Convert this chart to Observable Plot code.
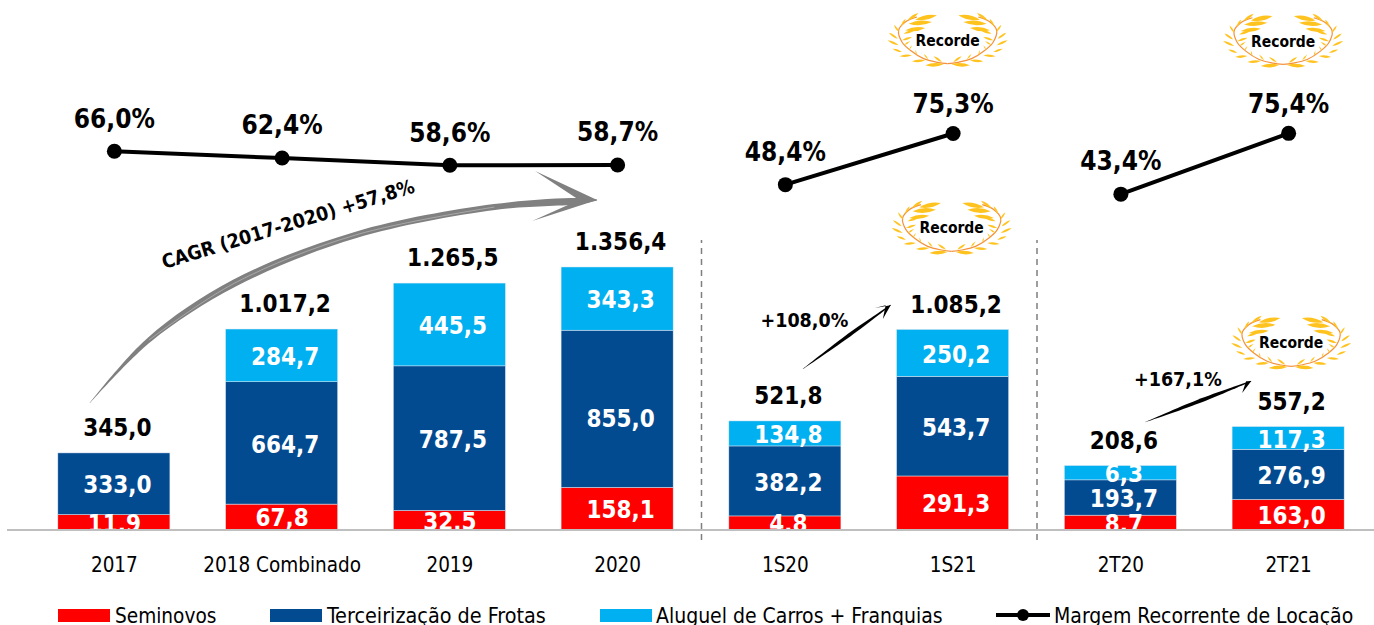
<!DOCTYPE html>
<html>
<head>
<meta charset="utf-8">
<script src="https://cdn.jsdelivr.net/npm/d3@7"></script>
<script src="https://cdn.jsdelivr.net/npm/@observablehq/plot@0.6"></script>
<style>
  html, body { margin: 0; padding: 0; background: #fff; width: 1374px; height: 625px; overflow: hidden; }
  body { font-family: "DejaVu Sans Condensed", "DejaVu Sans", sans-serif; font-stretch: condensed; }
  #legend { position: relative; height: 25px; width: 1374px; overflow: hidden; font-size: 21px; color: #000; }
  #legend .sw { position: absolute; top: 9px; width: 52px; height: 13px; }
  #legend .tx { position: absolute; top: 3px; line-height: 26px; white-space: nowrap; }
  #legend svg { position: absolute; top: 6px; left: 996px; }
  svg text { font-stretch: condensed; }
</style>
</head>
<body>
<div id="chart"></div>
<div id="legend"></div>
<script>
// Categories
const categories = ["2017", "2018 Combinado", "2019", "2020", "1S20", "1S21", "2T20", "2T21"];
// Printed values
const seminovos = [11.9, 67.8, 32.5, 158.1, 4.8, 291.3, 8.7, 163.0];
const terceirizacao = [333.0, 664.7, 787.5, 855.0, 382.2, 543.7, 193.7, 276.9];
const aluguel = [null, 284.7, 445.5, 343.3, 134.8, 250.2, 6.3, 117.3];
const totals = [345.0, 1017.2, 1265.5, 1356.4, 521.8, 1085.2, 208.6, 557.2];
const margem = [66.0, 62.4, 58.6, 58.7, 48.4, 75.3, 43.4, 75.4];
const margemGroup = ["anual", "anual", "anual", "anual", "semestre", "semestre", "trimestre", "trimestre"];
// The reference's segments are not to scale with their printed labels;
// these are the segment lengths as drawn in the picture, in chart units.
const seminovosDrawn = [77, 131, 98, 217, 70, 276, 74, 155];
const terceirizacaoDrawn = [318, 631, 746, 811, 361, 514, 182, 259];
const aluguelDrawn = [0, 272, 427, 326, 129, 242, 74, 117];

const seriesNames = ["Seminovos", "Terceirização de Frotas", "Aluguel de Carros + Franquias"];
const seriesColors = ["#FF0000", "#034B91", "#00B0F0"];
const lineName = "Margem Recorrente de Locação";

const fmt = d3.formatLocale({decimal: ",", thousands: ".", grouping: [3], currency: ["", ""]}).format(",.1f");

const stack = [
  ...categories.map((c, i) => ({cat: c, series: seriesNames[0], drawn: seminovosDrawn[i], value: seminovos[i]})),
  ...categories.map((c, i) => ({cat: c, series: seriesNames[1], drawn: terceirizacaoDrawn[i], value: terceirizacao[i]})),
  ...categories.map((c, i) => ({cat: c, series: seriesNames[2], drawn: aluguelDrawn[i], value: aluguel[i]}))
];
const totalRows = categories.map((c, i) => ({
  cat: c, total: totals[i],
  top: seminovosDrawn[i] + terceirizacaoDrawn[i] + aluguelDrawn[i]
}));
// Margin lives on a second, hidden axis laid over the same vertical space
const marginAxis = d3.scaleLinear().domain([0, 100]).range([1307, 2287]);
const lineRows = categories.map((c, i) => ({cat: c, pct: margem[i], group: margemGroup[i], y: marginAxis(margem[i])}));

const FONT = '"DejaVu Sans Condensed", "DejaVu Sans", sans-serif';
const H = 600;
const BIG = 24;
const step = 1342 / 8;

// Decoration: one half of a laurel wreath, leaves as [baseX, baseY, tipX, tipY] around its centre
const leaves = [
  [-97, -62, -32, -75], [-120, -60, -88, -82], [-117, -50, -47, -55],
  [-140, -42, -126, -65], [-127, -30, -67, -37], [-146, -25, -161, -47],
  [-132, -20, -97, -32], [-150, -5, -176, -23], [-137, 0, -107, -10],
  [-147, 15, -180, 0], [-132, 15, -112, 2], [-137, 35, -165, 25],
  [-117, 30, -107, 15], [-107, 45, -144, 48], [-92, 45, -97, 28],
  [-67, 60, -107, 63], [-57, 58, -72, 40], [-12, 72, -67, 75], [-17, 65, -42, 48]
].map(l => l.map(v => v / 3));
const stem = [[0, 70], [-30, 66], [-72, 55], [-112, 30], [-137, 5], [-147, -30], [-127, -55], [-92, -70]].map(p => p.map(v => v / 3));

const laurels = [
  {cat: "1S21", dx: -5, y: 2523},
  {cat: "2T21", dx: -5, y: 2519},
  {cat: "1S21", dx: -1, y: 1555},
  {cat: "2T21", dx: 3, y: 962}
];

function leafPath([x0, y0, x1, y1]) {
  const mx = (x0 + x1) / 2, my = (y0 + y1) / 2, nx = -(y1 - y0) * 0.2, ny = (x1 - x0) * 0.2;
  return `M${x0},${y0}Q${mx + nx},${my + ny} ${x1},${y1}Q${mx - nx},${my - ny} ${x0},${y0}Z`;
}

function laurelMark(index, {x, y}) {
  const g = d3.create("svg:g");
  for (const l of laurels) {
    const w = g.append("g").attr("transform", `translate(${x(l.cat) + x.bandwidth() / 2 + l.dx},${y(l.y)})`);
    for (const sign of [1, -1]) {
      const side = w.append("g").attr("transform", `scale(${sign},1)`);
      side.append("path").attr("d", d3.line().curve(d3.curveCatmullRom)(stem))
        .attr("fill", "none").attr("stroke", "#F4913A").attr("stroke-width", 1.2);
      side.selectAll("path.leaf").data(leaves).join("path").attr("class", "leaf")
        .attr("d", leafPath).attr("fill", "#FFC31F");
    }
    w.append("text").attr("text-anchor", "middle").attr("dy", "0.35em")
      .attr("font-size", 15.5).attr("font-weight", "bold").attr("fill", "#000").text("Recorde");
  }
  return g.node();
}

// Decoration: hand-drawn arrows as tapered strokes. Points are [category, dx, y, half width]
const bigArrow = {
  color: "#808080", notch: 18, streak: true,
  spine: [["2017", -24, 652, 0.2], ["2017", 35, 977, 2.5], ["2018 Combinado", -47, 1271, 3.6],
          ["2018 Combinado", 74, 1519, 3.2], ["2019", 45, 1663, 3.0], ["2020", -37, 1694, 3], ["2020", -20, 1699, 0.5]],
  head: [["2020", -82, 1849], ["2020", -20, 1699], ["2020", -85, 1591]]
};
const smallArrows = [
  {color: "#000", notch: 5, spine: [["1S20", 18, 828, 0.1], ["1S20", 61.5, 992, 1.7], ["1S21", -62, 1157, 0.4]],
   head: [["1S20", 90, 1142], ["1S21", -62, 1157], ["1S20", 98, 1086]]},
  {color: "#000", notch: 5, spine: [["2T20", 25, 554, 0.1], ["2T20", 78, 660, 1.9], ["2T21", -37, 765, 0.4]],
   head: [["2T21", -53, 765], ["2T21", -37, 765], ["2T21", -46, 704]]}
];

function arrowMark(index, {x, y}) {
  const g = d3.create("svg:g");
  const px = c => x(c) + x.bandwidth() / 2;
  for (const a of [bigArrow, ...smallArrows]) {
    const pts = a.spine.map(([c, dx, v, w]) => [px(c) + dx, y(v), w]);
    const upper = [], lower = [];
    pts.forEach((p, i) => {
      const a0 = pts[Math.max(i - 1, 0)], a1 = pts[Math.min(i + 1, pts.length - 1)];
      const tx = a1[0] - a0[0], ty = a1[1] - a0[1], len = Math.hypot(tx, ty);
      upper.push([p[0] + ty / len * p[2], p[1] - tx / len * p[2]]);
      lower.push([p[0] - ty / len * p[2], p[1] + tx / len * p[2]]);
    });
    const ln = d3.line().curve(d3.curveCatmullRom);
    g.append("path").attr("fill", a.color)
      .attr("d", ln(upper) + "L" + ln(lower.reverse()).slice(1) + "Z");
    if (a.streak) {
      g.append("path").attr("fill", "none").attr("stroke", "#fff").attr("stroke-opacity", 0.45)
        .attr("stroke-width", 0.7).attr("d", ln(pts.slice(1, 5).map(p => [p[0], p[1]])));
    }
    const [w1, tip, w2] = a.head.map(([c, dx, v]) => [px(c) + dx, y(v)]);
    const notch = [tip[0] - a.notch, tip[1]];
    g.append("path").attr("fill", a.color).attr("d", d3.line()([w1, tip, w2, notch]) + "Z");
  }
  return g.node();
}

const isTall = d => d.value === 855;
const isCentred = d => d.value === 11.9 || d.value === 67.8 || d.value === 32.5;
const isRecordEnd = d => d.cat === "1S21" || d.cat === "2T21";

const segmentLabel = (test, dx, dy) => Plot.text(stack, Plot.stackY({
  x: "cat", y: "drawn", z: "series",
  text: d => d.value != null && test(d) ? fmt(d.value) : null,
  fill: "#fff", fontSize: BIG, fontWeight: "bold", dx, dy
}));

const chart = Plot.plot({
  width: 1374,
  height: H,
  marginTop: 0,
  marginRight: 0,
  marginLeft: 7,
  marginBottom: 70.5,
  style: {fontFamily: FONT, background: "#fff", overflow: "visible"},
  x: {domain: categories, range: [30, 1372], paddingInner: 0.332, paddingOuter: 0.166, round: false, label: null},
  y: {domain: [0, 2731], axis: null},
  color: {domain: seriesNames, range: seriesColors},
  marks: [
    // Separators between periods
    Plot.ruleX(["2020", "1S21"], {x: d => d, dx: step / 2, y1: -54, y2: 1493, stroke: "#7f7f7f", strokeWidth: 1.5, strokeDasharray: "6,5"}),
    Plot.barY(stack, {x: "cat", y: "drawn", fill: "series", stroke: "#dfe8f2", strokeWidth: 0.5}),
    Plot.axisX({tickSize: 0, tickPadding: 27, fontSize: 20.5, fill: "#000"}),
    // Segment labels (white, so anything below the baseline vanishes as in the reference)
    segmentLabel(d => !isTall(d) && !isCentred(d), 3, 1.5),
    segmentLabel(isCentred, 0, 1.5),
    segmentLabel(isTall, 3, 10),
    Plot.ruleY([0], {stroke: "#bfbfbf", strokeWidth: 2}),
    // Totals
    Plot.text(totalRows, {x: "cat", y: "top", text: d => fmt(d.total), dx: 3, dy: -25, fill: "#000", fontSize: BIG, fontWeight: "bold"}),
    // Margin line
    Plot.line(lineRows, {x: "cat", y: "y", z: "group", stroke: "#000", strokeWidth: 4}),
    Plot.dot(lineRows, {x: "cat", y: "y", r: 7.5, fill: "#000"}),
    Plot.text(lineRows, {filter: d => !isRecordEnd(d), x: "cat", y: "y", text: d => fmt(d.pct) + "%", dy: -32, fill: "#000", fontSize: 26, fontWeight: "bold"}),
    Plot.text(lineRows, {filter: isRecordEnd, x: "cat", y: "y", text: d => fmt(d.pct) + "%", dy: -29, fill: "#000", fontSize: 26, fontWeight: "bold"}),
    // Annotations
    arrowMark,
    Plot.text(["CAGR (2017-2020) +57,8%"], {x: () => "2018 Combinado", y: () => 1575, text: d => d, dx: 6, rotate: -17, fontSize: 19.5, fontWeight: "bold", fill: "#000"}),
    Plot.text(["+108,0%"], {x: () => "1S20", y: () => 1078, text: d => d, dx: 19, fontSize: 19.5, fontWeight: "bold", fill: "#000"}),
    Plot.text(["+167,1%"], {x: () => "2T20", y: () => 775, text: d => d, dx: 57, fontSize: 19.5, fontWeight: "bold", fill: "#000"}),
    laurelMark
  ]
});
document.getElementById("chart").appendChild(chart);

// Legend (below the SVG)
const legend = document.getElementById("legend");
const swatchX = [58, 270, 600];
const textX = [115, 327, 656];
const textSize = [20.6, 21.4, 21];
seriesNames.forEach((name, i) => {
  const s = document.createElement("div");
  s.className = "sw"; s.style.left = swatchX[i] + "px"; s.style.background = seriesColors[i];
  const t = document.createElement("div");
  t.className = "tx"; t.style.left = textX[i] + "px"; t.style.fontSize = textSize[i] + "px"; t.textContent = name;
  legend.append(s, t);
});
legend.insertAdjacentHTML("beforeend",
  `<svg width="54" height="20"><line x1="0" x2="54" y1="9" y2="9" stroke="#000" stroke-width="4"/><circle cx="27" cy="9" r="6" fill="#000"/></svg>
   <div class="tx" style="left:1054px">${lineName}</div>`);
</script>
</body>
</html>
